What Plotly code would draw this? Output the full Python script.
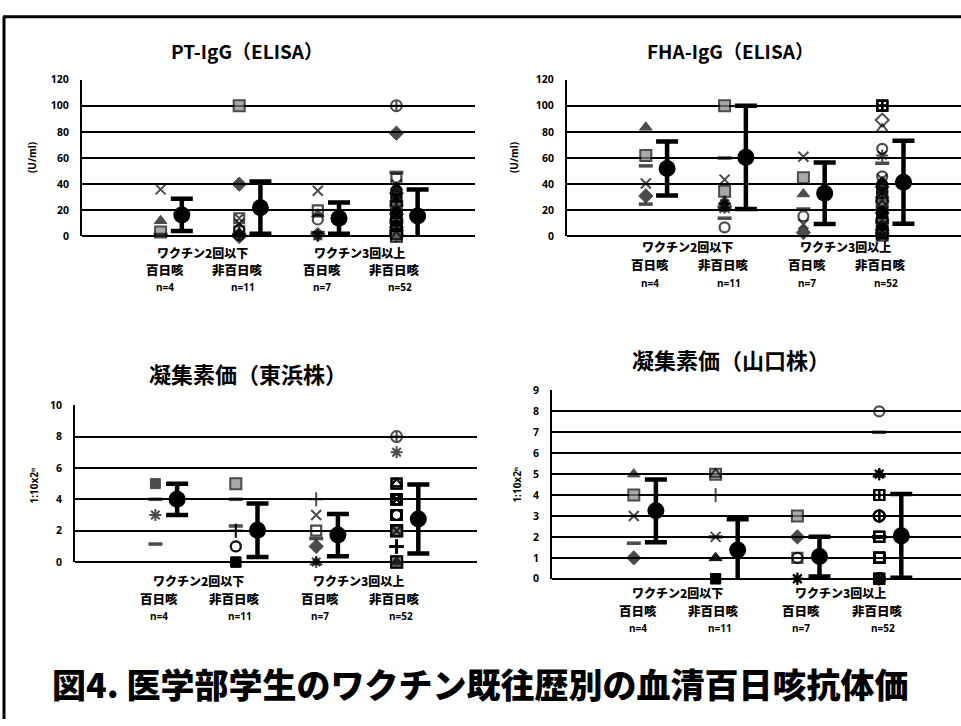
import plotly.graph_objects as go

W, H = 961, 726

# ---- category labels -------------------------------------------------------
DOSE_LABELS = ["ワクチン2回以下", "ワクチン3回以上"]
DX_LABELS = ["百日咳", "非百日咳", "百日咳", "非百日咳"]
N_LABELS = ["n=4", "n=11", "n=7", "n=52"]

# ---- PT-IgG (ELISA), U/ml --------------------------------------------------
pt_g1 = [36, 12, 3.5, 1.5]
pt_g2 = [100, 40, 14, 10, 5, 4, 3, 2, 1, 1, 0]
pt_g3 = [35, 20, 17, 13, 3, 1.5, 0.5]
pt_g4 = [100, 79, 49, 44, 40, 38, 35, 33, 31, 30, 28, 27, 25, 24, 22, 21,
         20, 19, 18, 17, 16, 15, 14, 13, 12, 11, 10, 10, 9, 8, 8, 7, 7, 6,
         6, 5, 5, 4, 4, 3, 3, 3, 2, 2, 2, 1, 1, 1, 0.5, 0.5, 0, 0]
pt_mean = [16.5, 22, 14, 15.75]
pt_sd = [12.3, 20, 12, 20.25]

# ---- FHA-IgG (ELISA), U/ml -------------------------------------------------
fha_g1 = [83.5, 62, 54, 40.5, 31, 24.75]
fha_g2 = [100, 60, 43.5, 34.5, 27, 25, 23, 22, 21, 14, 7]
fha_g3 = [61, 45, 32.5, 21, 15.5, 9.3, 3]
fha_g4 = [100, 100, 100, 100, 100, 100, 100, 100,
          89, 82, 67, 62, 56, 46, 44, 42, 40, 38, 36, 34, 32, 30, 29, 27,
          25, 24, 22, 20, 19, 18, 16, 15, 14, 13, 12, 11, 10, 9, 8, 7, 6,
          5, 4, 4, 3, 3, 2, 2, 1, 1, 0.5, 0]
fha_mean = [52, 60.5, 33, 41.5]
fha_sd = [20.7, 39.5, 23.5, 31.7]

# ---- 凝集素価 (東浜株), 1:10x2^n -------------------------------------------
th_g1 = [5, 4, 3, 1.15]
th_g2 = [5, 4, 2.3, 2, 2, 1, 1, 0, 0, 0, 0]
th_g3 = [4, 3, 2, 1.5, 1, 0, 0]
th_g4 = [8, 7, 5, 5, 5, 5, 5, 5, 4, 4, 4, 4, 4, 4, 4, 4,
         3, 3, 3, 3, 3, 3, 3, 3, 3, 3, 2, 2, 2, 2, 2, 2, 2, 2, 2, 2,
         1, 1, 1, 1, 1, 1, 1, 1, 0, 0, 0, 0, 0, 0, 0, 0]
th_mean = [4.0, 2.03, 1.72, 2.75]
th_sd = [1.0, 1.7, 1.35, 2.2]

# ---- 凝集素価 (山口株), 1:10x2^n -------------------------------------------
yg_g1 = [5, 4, 3, 1.7, 1]
yg_g2 = [5, 5, 4, 2, 2, 1, 1, 0, 0, 0, 0]
yg_g3 = [3, 2, 1, 1, 0, 0, 0]
yg_g4 = [8, 7, 5, 5, 5, 5, 5, 4, 4, 4, 4, 4, 4,
         3, 3, 3, 3, 3, 3, 3, 3, 2, 2, 2, 2, 2, 2, 2, 2, 2, 2,
         1, 1, 1, 1, 1, 1, 1, 1, 1, 1, 0, 0, 0, 0, 0, 0, 0, 0, 0, 0, 0]
yg_mean = [3.25, 1.38, 1.06, 2.05]
yg_sd = [1.5, 1.47, 0.95, 2.0]

# ---- marker vocabulary -----------------------------------------------------
STYLE = {
    "x":      ("x-thin", 10, "black", 2),
    "tri":    ("triangle-up", 11, "black", 1),
    "trio":   ("triangle-up-open", 10, "black", 2),
    "sqg":    ("square", 11, "#858585", 2),
    "sqk":    ("square", 10, "black", 1),
    "dia":    ("diamond", 11, "black", 1),
    "diao":   ("diamond-open", 10, "black", 2),
    "dash":   ("line-ew", 10, "black", 3.5),
    "tick":   ("line-ns", 10, "black", 2),
    "o":      ("circle-open", 10, "black", 2.2),
    "sqo":    ("square-open", 10, "black", 2.2),
    "plus":   ("cross-thin", 10, "black", 2),
    "ast":    ("asterisk", 10, "black", 2),
    "oplus":  ("circle-cross-open", 11, "black", 2),
    "ox":     ("circle-x-open", 10, "black", 2),
    "sqplus": ("square-cross-open", 10, "black", 2),
    "sqx":    ("square-x-open", 10, "black", 2),
}
CYCLE = ["x", "tri", "o", "dia", "sqx", "ast", "sqo", "plus", "ox", "dash", "sqg", "trio"]


def cycled(head, n):
    out = list(head)
    k = 0
    while len(out) < n:
        out.append(CYCLE[k % len(CYCLE)])
        k += 1
    return out


pt_sym = [
    ["x", "tri", "sqg", "dash"],
    ["sqg", "dia", "sqx", "x", "o", "sqo", "tri", "plus", "ox", "dash", "dia"],
    ["x", "sqo", "tri", "o", "dash", "dia", "ast"],
    cycled(["oplus", "dia", "dash", "sqo"], len(pt_g4)),
]
fha_sym = [
    ["tri", "sqg", "dash", "x", "dia", "dash"],
    ["sqg", "dash", "x", "sqg", "tri", "ast", "dia", "x", "dash", "dash", "o"],
    ["x", "sqg", "tri", "dash", "o", "x", "dia"],
    cycled(["sqplus"] * 8 + ["diao", "trio", "o", "ast", "dash", "o"], len(fha_g4)),
]
th_sym = [
    ["sqk", "dash", "ast", "dash"],
    ["sqg", "dash", "dash", "plus", "plus", "o", "o", "sqk", "sqk", "sqk", "sqk"],
    ["plus", "x", "sqo", "dash", "dia", "tri", "ast"],
    ["oplus", "ast"] + ["sqo", "trio"] * 3 + ["sqx", "sqo"] * 4 + ["sqo", "o"] * 5
    + ["sqg", "sqx"] * 5 + ["plus"] * 8 + ["sqg", "tri"] * 4,
]
yg_sym = [
    ["tri", "sqg", "x", "dash", "dia"],
    ["sqg", "trio", "tick", "x", "dash", "tri", "tri", "sqk", "sqk", "sqk", "sqk"],
    ["sqg", "dia", "sqo", "o", "ast", "ast", "ast"],
    ["o", "dash"] + ["ast", "tri", "ast", "tri", "ast"] + ["sqplus"] * 6 + ["oplus"] * 8
    + ["sqo", "dash"] * 5 + ["sqo"] * 10 + ["oplus", "sqx"] * 5 + ["oplus"],
]

# ---- layout geometry (pixels on the 961x726 page) --------------------------
PANELS = [
    dict(vals=[pt_g1, pt_g2, pt_g3, pt_g4], syms=pt_sym, mean=pt_mean, sd=pt_sd,
         box=(82, 475, 74, 234), yr=(0, 120), dtick=20, title="PT-IgG（ELISA）",
         tsize=19, tpos=(247, 44), ytitle="(U/ml)", ytpos=(32, 154), rows=(250, 268, 286)),
    dict(vals=[fha_g1, fha_g2, fha_g3, fha_g4], syms=fha_sym, mean=fha_mean, sd=fha_sd,
         box=(567, 961, 74, 234), yr=(0, 120), dtick=20, title="FHA-IgG（ELISA）",
         tsize=19, tpos=(730, 44), ytitle="(U/ml)", ytpos=(514, 154), rows=(244, 263, 281)),
    dict(vals=[th_g1, th_g2, th_g3, th_g4], syms=th_sym, mean=th_mean, sd=th_sd,
         box=(75, 477, 406, 566), yr=(0, 10), dtick=2, title="凝集素価（東浜株）",
         tsize=22, tpos=(248, 373), ytitle="1:10x2ⁿ", ytpos=(34, 488), rows=(585, 603, 621)),
    dict(vals=[yg_g1, yg_g2, yg_g3, yg_g4], syms=yg_sym, mean=yg_mean, sd=yg_sd,
         box=(552, 961, 391, 583), yr=(0, 9), dtick=1, title="凝集素価（山口株）",
         tsize=22, tpos=(731, 359), ytitle="1:10x2ⁿ", ytpos=(517, 487), rows=(597, 615, 633)),
]
MEAN_SHIFT = 0.27
JP = "Noto Sans CJK JP"
LAT = "Noto Sans"


def px(x):
    return x / W


def py(y):
    return 1 - y / H


def label(text, x, y, size, family, weight="bold", xref="paper", angle=0):
    return dict(text=text, x=x, y=y, xref=xref, yref="paper", showarrow=False,
                xanchor="center", yanchor="middle", textangle=angle,
                font=dict(family=family, size=size, color="black", weight=weight))


fig = go.Figure()
annotations = []

for k, p in enumerate(PANELS):
    sfx = "" if k == 0 else str(k + 1)
    xa, ya = "x" + sfx, "y" + sfx
    x0, x1, y0, y1 = p["box"]

    for g, (vals, syms) in enumerate(zip(p["vals"], p["syms"])):
        st = [STYLE[s] for s in syms]
        fig.add_trace(go.Scatter(
            x=[g + 1] * len(vals), y=vals, mode="markers", xaxis=xa, yaxis=ya,
            marker=dict(symbol=[s[0] for s in st], size=[s[1] for s in st],
                        color=[s[2] for s in st],
                        line=dict(color="black", width=[s[3] for s in st])),
            cliponaxis=False, showlegend=False, hoverinfo="skip"))

    fig.add_trace(go.Scatter(
        x=[g + 1 + MEAN_SHIFT for g in range(4)], y=p["mean"], mode="markers",
        xaxis=xa, yaxis=ya,
        marker=dict(symbol="circle", size=17, color="black"),
        error_y=dict(type="data", array=p["sd"], visible=True, color="black",
                     thickness=4.5, width=11),
        cliponaxis=False, showlegend=False, hoverinfo="skip"))

    fig.layout["xaxis" + sfx] = dict(
        domain=[px(x0), px(x1)], range=[0, 5], anchor=ya, showgrid=False,
        zeroline=False, showline=False, showticklabels=False, ticks="", fixedrange=True)
    fig.layout["yaxis" + sfx] = dict(
        domain=[py(y1), py(y0)], range=list(p["yr"]), dtick=p["dtick"], anchor=xa,
        showgrid=True, gridcolor="black", gridwidth=1.8,
        zeroline=True, zerolinecolor="black", zerolinewidth=2,
        showline=True, linecolor="black", linewidth=2, ticks="",
        ticklabelstandoff=9,
        tickfont=dict(family=LAT, size=10.5, color="black", weight="bold"),
        fixedrange=True)

    # panel title and y-axis title
    annotations.append(label(p["title"], px(p["tpos"][0]), py(p["tpos"][1]), p["tsize"], JP))
    annotations.append(label(p["ytitle"], px(p["ytpos"][0]), py(p["ytpos"][1]), 10, LAT,
                             angle=-90))

    # category labels under the axis
    r1, r2, r3 = p["rows"]
    for j, lab in enumerate(DOSE_LABELS):
        annotations.append(label(lab, 2 * j + 1.53, py(r1), 12, JP, 900, xref=xa))
    for g in range(4):
        annotations.append(label(DX_LABELS[g], g + 1 + (0.05 if g % 2 == 0 else -0.02),
                                 py(r2), 12.5, JP, 900, xref=xa))
        annotations.append(label(N_LABELS[g], g + 1.05, py(r3), 10, LAT, xref=xa))

annotations.append(label("図4. 医学部学生のワクチン既往歴別の血清百日咳抗体価",
                         px(480), py(690), 34, JP, 900))

fig.update_layout(
    width=W, height=H, margin=dict(l=0, r=0, t=0, b=0),
    paper_bgcolor="white", plot_bgcolor="white",
    annotations=annotations,
    shapes=[
        dict(type="line", xref="paper", yref="paper", x0=px(3), x1=1, y0=py(10), y1=py(10),
             line=dict(color="black", width=3)),
        dict(type="line", xref="paper", yref="paper", x0=px(4), x1=px(4), y0=py(10), y1=0,
             line=dict(color="black", width=3)),
    ],
)

fig.write_html("out.html", post_script="document.body.style.margin='0';")
